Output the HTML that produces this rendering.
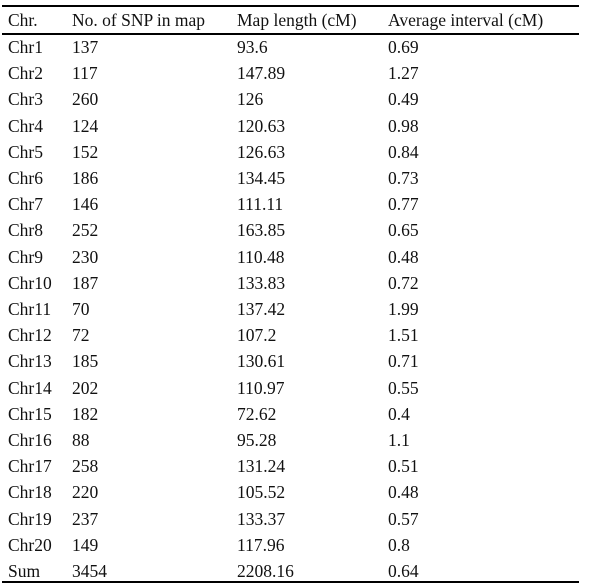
<!DOCTYPE html>
<html><head><meta charset="utf-8"><style>
body{margin:0;width:603px;height:585px;background:#fff;position:relative;overflow:hidden;font-family:"Liberation Serif",serif;font-size:17.5px;color:#111}
.l{position:absolute;left:2px;width:577px;background:#000}
.r{position:absolute;left:0;width:603px;height:20px;line-height:20px}
.r span{position:absolute;white-space:nowrap}
.c1{left:8px}.c2{left:72px}.c3{left:237px}.c4{left:388px}
</style></head><body>
<div class="l" style="top:5px;height:2px"></div>
<div class="l" style="top:33px;height:1.5px"></div>
<div class="l" style="top:581px;height:2px"></div>
<div class="r" style="top:10px">
<span class="c1">Chr.</span>
<span class="c2">No. of SNP in map</span>
<span class="c3">Map length (cM)</span>
<span class="c4">Average interval (cM)</span>
</div>
<div id="rows"></div>
<script>
const chrs=["Chr1","Chr2","Chr3","Chr4","Chr5","Chr6","Chr7","Chr8","Chr9","Chr10","Chr11","Chr12","Chr13","Chr14","Chr15","Chr16","Chr17","Chr18","Chr19","Chr20","Sum"];
const snps=["137","117","260","124","152","186","146","252","230","187","70","72","185","202","182","88","258","220","237","149","3454"];
const lens=["93.6","147.89","126","120.63","126.63","134.45","111.11","163.85","110.48","133.83","137.42","107.2","130.61","110.97","72.62","95.28","131.24","105.52","133.37","117.96","2208.16"];
const ints=["0.69","1.27","0.49","0.98","0.84","0.73","0.77","0.65","0.48","0.72","1.99","1.51","0.71","0.55","0.4","1.1","0.51","0.48","0.57","0.8","0.64"];
const host=document.getElementById('rows');
chrs.forEach((c,i)=>{
  const r=document.createElement('div');
  r.className='r';r.style.top=(37+i*26.2)+'px';
  
  
  [[c,'c1'],[snps[i],'c2'],[lens[i],'c3'],[ints[i],'c4']].forEach(([t,k])=>{
    const s=document.createElement('span');s.className=k;s.textContent=t;
    
    
    r.appendChild(s);
  });
  host.appendChild(r);
});
</script>
</body></html>
